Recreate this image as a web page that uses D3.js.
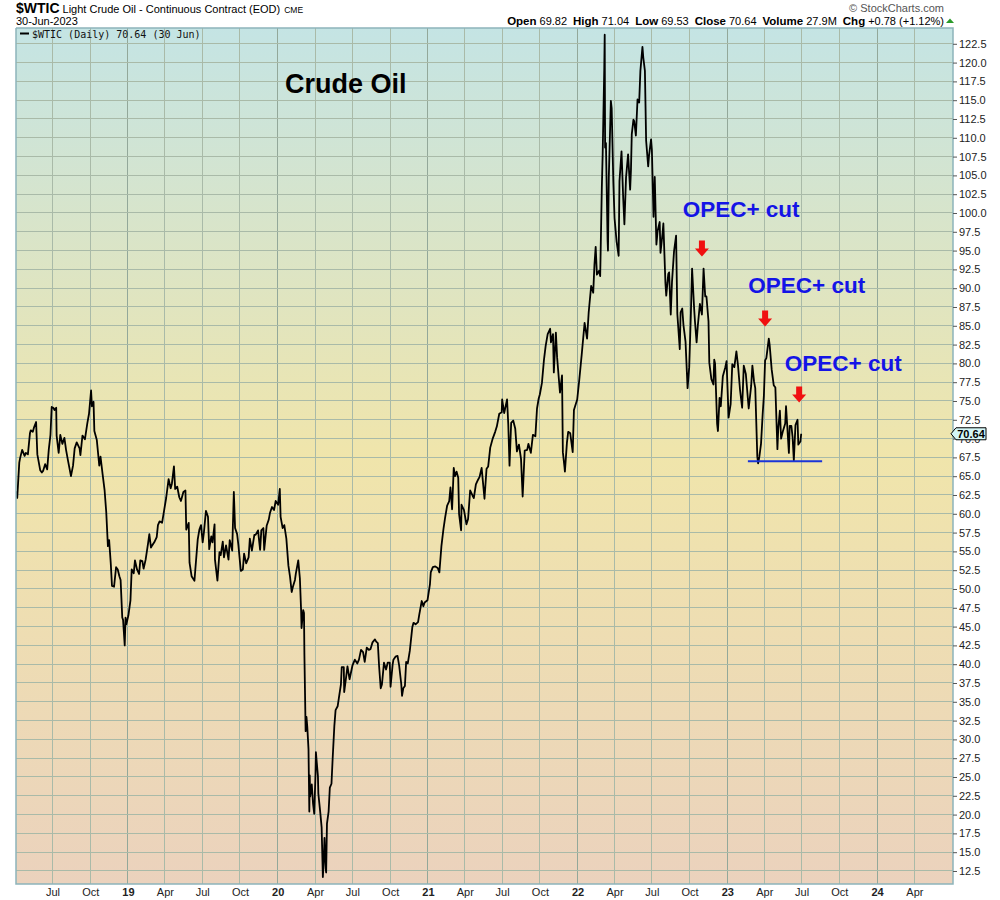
<!DOCTYPE html>
<html>
<head>
<meta charset="utf-8">
<script src="https://cdn.jsdelivr.net/npm/d3@7"></script>
<style>
  body { margin: 0; background: #fff; }
  svg text { font-family: Arial, "Liberation Sans", sans-serif; }
</style>
</head>
<body>
<div id="chart"></div>
<script>
// WTIC daily closes ([month-day, close])
const wtic2018 = [
  ["04-02",63.0],["04-06",62.1],["04-11",66.8],["04-13",67.4],["04-18",68.5],["04-24",67.7],["04-27",68.1],
  ["05-02",67.9],["05-07",70.7],["05-09",71.1],["05-14",70.9],["05-17",71.5],["05-22",72.2],["05-25",67.9],
  ["05-29",66.7],["06-01",65.8],["06-05",65.5],["06-08",65.7],["06-13",66.6],["06-18",65.9],["06-22",68.6],
  ["06-26",70.5],["06-29",74.2],["07-03",74.1],["07-06",73.8],["07-10",74.1],["07-11",70.4],["07-16",68.1],
  ["07-20",70.5],["07-25",69.3],["07-30",70.1],["08-03",68.5],["08-08",67.0],["08-15",65.0],["08-20",66.4],
  ["08-24",68.7],["08-29",69.5],["09-05",68.7],["09-07",67.8],["09-12",70.4],["09-18",69.9],["09-24",72.1],
  ["09-28",73.3],["10-03",76.4],["10-05",74.3],["10-09",74.9],["10-11",71.0],["10-17",69.8],["10-23",66.4],
  ["10-26",67.6],["10-31",65.3],["11-05",63.1],["11-09",60.2],["11-13",55.7],["11-16",56.5],["11-20",53.4],
  ["11-23",50.4],["11-28",50.3],["12-03",52.9],["12-07",52.6],["12-11",51.7],["12-14",51.2],["12-18",46.2],
  ["12-20",45.9],["12-24",42.5],["12-26",46.2],["12-28",45.3]
];
const wtic2019 = [
  ["01-02",46.5],["01-07",48.5],["01-10",52.6],["01-15",52.1],["01-18",53.8],["01-23",52.6],["01-28",52.0],
  ["01-31",53.8],["02-05",53.7],["02-08",52.7],["02-13",53.9],["02-19",56.1],["02-22",57.3],["02-26",55.5],
  ["03-01",55.8],["03-06",56.2],["03-12",56.9],["03-15",58.5],["03-19",59.0],["03-25",58.8],["03-29",60.1],
  ["04-04",62.1],["04-10",64.6],["04-15",63.4],["04-18",64.0],["04-23",66.3],["04-26",63.3],["05-01",63.6],
  ["05-06",62.2],["05-10",61.7],["05-16",62.9],["05-21",63.1],["05-23",57.9],["05-29",58.8],["05-31",53.5],
  ["06-05",51.7],["06-12",51.1],["06-14",52.5],["06-20",56.6],["06-24",57.9],["06-28",58.5],["07-02",56.2],
  ["07-05",57.5],["07-10",60.4],["07-15",59.6],["07-18",55.3],["07-23",57.0],["07-26",56.2],["07-31",58.6],
  ["08-01",53.9],["08-07",51.1],["08-12",54.9],["08-15",54.5],["08-20",56.3],["08-23",54.2],["08-28",55.8],
  ["09-03",53.9],["09-06",56.5],["09-12",55.1],["09-16",62.9],["09-19",58.1],["09-24",57.3],["09-27",55.9],
  ["10-03",52.4],["10-08",52.6],["10-11",54.7],["10-16",53.4],["10-22",54.2],["10-25",56.7],["10-30",55.1],
  ["11-05",57.2],["11-08",57.2],["11-14",57.8],["11-19",55.2],["11-22",57.8],["11-27",58.1],["11-29",55.2],
  ["12-05",58.4],["12-10",59.2],["12-13",60.1],["12-18",60.9],["12-23",60.5],["12-27",61.7]
];
const wtic2020 = [
  ["01-02",61.2],["01-06",63.3],["01-08",59.6],["01-13",58.1],["01-17",58.5],["01-22",56.7],["01-27",53.1],
  ["01-31",51.6],["02-04",49.6],["02-07",50.3],["02-12",51.2],["02-14",52.0],["02-20",53.8],["02-24",51.4],
  ["02-27",47.1],["02-28",44.8],["03-03",47.2],["03-05",46.8],["03-06",41.3],["03-09",31.1],["03-11",33.0],
  ["03-13",31.7],["03-16",28.7],["03-18",20.4],["03-19",25.2],["03-20",22.4],["03-24",24.0],["03-27",21.5],
  ["03-30",20.1],["04-02",25.3],["04-03",28.3],["04-08",25.1],["04-09",22.8],["04-14",20.1],["04-17",18.3],
  ["04-20",11.7],["04-22",13.8],["04-24",16.9],["04-27",12.8],["04-28",12.3],["04-30",18.8],["05-04",20.4],
  ["05-07",23.6],["05-11",24.1],["05-14",27.6],["05-18",31.8],["05-21",33.9],["05-26",34.4],["05-29",35.5],
  ["06-03",37.3],["06-05",39.6],["06-10",39.6],["06-11",36.3],["06-16",38.4],["06-19",39.7],["06-24",38.0],
  ["06-26",38.5],["07-01",39.8],["07-07",40.6],["07-13",40.1],["07-17",40.6],["07-22",41.9],["07-27",41.6],
  ["07-31",40.3],["08-05",42.2],["08-10",41.9],["08-14",42.0],["08-19",42.9],["08-25",43.3],["08-28",43.0],
  ["09-01",42.8],["09-04",39.8],["09-08",36.8],["09-11",37.3],["09-16",40.2],["09-21",39.3],["09-25",40.2],
  ["09-30",40.2],["10-02",37.0],["10-07",39.9],["10-09",40.6],["10-14",41.0],["10-19",41.1],["10-23",39.8],
  ["10-28",37.4],["10-30",35.8],["11-02",36.8],["11-06",37.1],["11-09",40.3],["11-13",40.1],["11-18",41.8],
  ["11-24",44.9],["11-27",45.5],["12-02",45.3],["12-08",45.6],["12-11",46.6],["12-17",48.4],["12-21",47.7],
  ["12-24",48.2],["12-31",48.5]
];
const wtic2021 = [
  ["01-06",50.6],["01-08",52.2],["01-13",52.9],["01-19",53.0],["01-25",52.8],["01-29",52.2],["02-03",55.7],
  ["02-08",58.0],["02-12",59.5],["02-17",61.1],["02-22",61.7],["02-25",63.5],["03-01",60.6],["03-05",66.1],
  ["03-08",65.0],["03-12",65.6],["03-16",64.8],["03-18",60.0],["03-23",57.8],["03-24",61.2],["03-30",60.5],
  ["04-05",58.6],["04-09",59.3],["04-14",63.1],["04-20",62.4],["04-23",62.1],["04-28",63.9],["05-03",64.5],
  ["05-07",64.9],["05-12",66.1],["05-19",62.0],["05-24",66.0],["05-28",66.3],["06-02",68.8],["06-08",70.0],
  ["06-14",70.9],["06-18",71.6],["06-24",73.3],["06-30",73.5],["07-01",75.2],["07-06",73.4],["07-13",75.2],
  ["07-16",71.8],["07-19",66.4],["07-23",72.1],["07-28",72.4],["08-02",71.3],["08-06",68.3],["08-11",69.2],
  ["08-16",67.3],["08-20",62.3],["08-25",68.4],["08-31",68.5],["09-03",69.3],["09-09",68.1],["09-14",70.5],
  ["09-20",70.3],["09-24",74.0],["09-28",75.3],["10-01",75.9],["10-06",77.4],["10-11",80.5],["10-15",82.3],
  ["10-20",83.9],["10-26",84.6],["10-28",82.8],["11-02",83.9],["11-04",78.8],["11-09",84.1],["11-12",80.8],
  ["11-19",76.1],["11-24",78.4],["11-26",68.2],["11-30",66.2],["12-01",65.6],["12-06",69.5],["12-09",70.9],
  ["12-14",70.7],["12-20",68.2],["12-23",73.8],["12-31",75.2]
];
const wtic2022 = [
  ["01-05",77.8],["01-11",81.2],["01-18",85.4],["01-24",83.3],["01-28",86.8],["02-03",90.3],["02-08",89.4],
  ["02-11",93.1],["02-14",95.5],["02-17",91.8],["02-22",92.3],["02-25",91.6],["03-01",103.4],["03-03",107.7],
  ["03-07",119.4],["03-08",123.7],["03-09",108.7],["03-11",109.3],["03-15",96.4],["03-16",95.0],["03-18",104.7],
  ["03-23",114.9],["03-25",113.9],["03-29",104.2],["04-01",99.3],["04-06",96.2],["04-11",94.3],["04-13",104.2],
  ["04-18",108.2],["04-22",102.1],["04-25",98.5],["04-29",104.7],["05-04",107.8],["05-09",103.1],["05-11",105.7],
  ["05-13",110.5],["05-17",112.4],["05-19",112.2],["05-23",110.3],["05-27",115.1],["05-31",114.7],["06-03",118.9],
  ["06-08",122.1],["06-10",120.7],["06-14",118.9],["06-17",109.6],["06-22",106.2],["06-24",107.6],["06-29",109.8],
  ["07-01",108.4],["07-05",99.5],["07-08",104.8],["07-12",95.8],["07-15",97.6],["07-20",98.8],["07-22",94.7],
  ["07-27",97.3],["07-29",98.6],["08-03",90.7],["08-05",89.0],["08-10",91.9],["08-12",92.1],["08-16",86.5],
  ["08-19",90.8],["08-24",94.9],["08-29",97.0],["09-01",86.6],["09-07",81.9],["09-09",86.8],["09-13",87.3],
  ["09-16",85.1],["09-21",82.9],["09-26",76.7],["09-30",79.5],["10-04",86.5],["10-07",92.6],["10-12",87.3],
  ["10-14",85.6],["10-18",82.8],["10-21",85.0],["10-26",87.9],["10-31",86.5],["11-04",92.6],["11-08",88.9],
  ["11-11",88.9],["11-16",85.6],["11-18",80.1],["11-23",77.9],["11-28",77.2],["11-30",80.5],["12-02",80.0],
  ["12-07",72.0],["12-09",71.0],["12-13",75.4],["12-16",74.3],["12-21",78.3],["12-27",79.5],["12-30",80.3]
];
const wtic2023 = [
  ["01-04",72.8],["01-09",74.6],["01-13",79.9],["01-18",79.5],["01-23",81.6],["01-27",79.7],["02-01",76.4],
  ["02-06",74.1],["02-10",79.7],["02-15",78.6],["02-22",74.0],["02-28",77.0],["03-03",79.7],["03-07",77.6],
  ["03-10",76.7],["03-15",67.6],["03-17",66.7],["03-20",67.6],["03-24",69.3],["03-28",73.2],["03-31",75.7],
  ["04-03",80.4],["04-06",80.7],["04-12",83.3],["04-14",82.5],["04-19",79.2],["04-24",77.1],["04-28",76.8],
  ["05-03",68.6],["05-05",71.3],["05-09",73.7],["05-12",70.0],["05-16",70.9],["05-22",72.0],["05-24",74.3],
  ["05-31",68.1],["06-02",71.7],["06-06",71.7],["06-09",70.2],["06-12",67.1],["06-16",71.8],["06-21",72.5],
  ["06-23",69.2],["06-28",69.6],["06-30",70.64]
];

// annotations
const cutDates = ["2022-10-31", "2023-04-03", "2023-06-25"];
const cutTipPrices = [94.2, 84.9, 74.8];
const cutLabelDates = ["2022-09-14", "2023-02-21", "2023-05-21"];
const cutLabelPrices = [99.5, 89.4, 79.0];
const supportDates = ["2023-02-20", "2023-08-20"];
const supportPrice = 67.0;
const yTicks = d3.range(12.5, 122.6, 2.5);
const lastClose = 70.64;

const parse = d3.timeParse("%Y-%m-%d");
const series = [];
[[2018, wtic2018], [2019, wtic2019], [2020, wtic2020], [2021, wtic2021], [2022, wtic2022], [2023, wtic2023]]
  .forEach(([yr, rows]) => rows.forEach(r => series.push({date: parse(yr + "-" + r[0]), close: r[1]})));

const W = 1000, H = 900;
const plot = {left: 16, right: 953, top: 28, bottom: 884};

const svg = d3.select("#chart").append("svg")
  .attr("width", W).attr("height", H);

const x = d3.scaleTime()
  .domain([parse("2018-04-03"), parse("2024-07-04")])
  .range([plot.left, plot.right]);
const y = d3.scaleLinear()
  .domain([10.77, 124.6])
  .range([plot.bottom, plot.top]);

// background gradient
const defs = svg.append("defs");
const grad = defs.append("linearGradient").attr("id", "bg")
  .attr("x1", 0).attr("y1", 0).attr("x2", 0).attr("y2", 1);
grad.append("stop").attr("offset", "0%").attr("stop-color", "#c4e4e4");
grad.append("stop").attr("offset", "50%").attr("stop-color", "#f0e5ab");
grad.append("stop").attr("offset", "100%").attr("stop-color", "#ebd2bd");
defs.append("clipPath").attr("id", "clip").append("rect")
  .attr("x", plot.left).attr("y", plot.top)
  .attr("width", plot.right - plot.left).attr("height", plot.bottom - plot.top);

svg.append("rect")
  .attr("x", plot.left).attr("y", plot.top)
  .attr("width", plot.right - plot.left).attr("height", plot.bottom - plot.top)
  .attr("fill", "url(#bg)");

// grid
const quarters = d3.timeMonth.every(3).range(parse("2018-04-03"), parse("2024-06-01"));
svg.append("g")
  .selectAll("line")
  .data(quarters)
  .join("line")
  .attr("x1", d => x(d)).attr("x2", d => x(d))
  .attr("y1", plot.top).attr("y2", plot.bottom)
  .attr("stroke", d => d.getMonth() === 0 ? "#93a89a" : "#a9baa8")
  .attr("stroke-width", 1)
  .attr("shape-rendering", "crispEdges");

svg.append("g")
  .selectAll("line")
  .data(yTicks)
  .join("line")
  .attr("x1", plot.left).attr("x2", plot.right)
  .attr("y1", d => y(d)).attr("y2", d => y(d))
  .attr("stroke", "#a9baa8")
  .attr("stroke-width", 1)
  .attr("shape-rendering", "crispEdges");

// price line
const line = d3.line()
  .x(d => x(d.date))
  .y(d => y(d.close));

svg.append("path")
  .datum(series)
  .attr("clip-path", "url(#clip)")
  .attr("fill", "none")
  .attr("stroke", "#000")
  .attr("stroke-width", 1.8)
  .attr("stroke-linejoin", "round")
  .attr("d", line);

// border
svg.append("path")
  .attr("d", `M${plot.left},${plot.top}V${plot.bottom}H${plot.right}V${plot.top}H${plot.left}`)
  .attr("fill", "none")
  .attr("stroke", "#8db4ba")
  .attr("stroke-width", 1.5);

// axes
const yAxis = svg.append("g")
  .attr("transform", `translate(${plot.right},0)`)
  .call(d3.axisRight(y).tickValues(yTicks).tickFormat(d3.format(".1f")).tickSize(4).tickPadding(2));
yAxis.select(".domain").remove();
yAxis.selectAll("line").attr("stroke", "#555");
yAxis.selectAll("text").attr("font-size", 11).attr("fill", "#222")
  .style("font-family", "Arial, 'Liberation Sans', sans-serif");

const xAxis = svg.append("g")
  .attr("transform", `translate(0,${plot.bottom})`)
  .call(d3.axisBottom(x).tickValues(quarters).tickSize(0).tickPadding(4)
    .tickFormat(d => d.getMonth() === 0 ? d3.timeFormat("%y")(d) : d3.timeFormat("%b")(d)));
xAxis.select(".domain").remove();
xAxis.selectAll("text")
  .attr("font-size", 11).attr("fill", "#222")
  .attr("font-weight", d => d.getMonth() === 0 ? "bold" : "normal")
  .style("font-family", "Arial, 'Liberation Sans', sans-serif");

// last value tag
const tagY = y(lastClose);
svg.append("path")
  .attr("d", `M${plot.right - 2},${tagY} L${plot.right + 3},${tagY - 6} H${plot.right + 33} V${tagY + 6} H${plot.right + 3} Z`)
  .attr("fill", "#d4f6f6").attr("stroke", "#000").attr("stroke-width", 1);
svg.append("text")
  .attr("x", plot.right + 18).attr("y", tagY + 4)
  .attr("text-anchor", "middle")
  .attr("font-size", 11).attr("font-weight", "bold")
  .text(d3.format(".2f")(lastClose));

// support line
svg.append("line")
  .attr("x1", x(parse(supportDates[0]))).attr("x2", x(parse(supportDates[1])))
  .attr("y1", y(supportPrice)).attr("y2", y(supportPrice))
  .attr("stroke", "#1a34d8").attr("stroke-width", 2);

// OPEC+ cut arrows and labels
const arrows = svg.append("g");
cutDates.forEach((d, i) => {
  const ax = x(parse(d)), ay = y(cutTipPrices[i]);
  arrows.append("path")
    .attr("d", `M${ax - 3},${ay - 16} H${ax + 3} V${ay - 8} H${ax + 7} L${ax},${ay} L${ax - 7},${ay - 8} H${ax - 3} Z`)
    .attr("fill", "#f01010");
  arrows.append("text")
    .attr("x", x(parse(cutLabelDates[i]))).attr("y", y(cutLabelPrices[i]))
    .attr("font-size", 22.5).attr("font-weight", "bold")
    .attr("fill", "#1414e6")
    .text("OPEC+ cut");
});

// chart title
svg.append("text")
  .attr("x", 285).attr("y", 93)
  .attr("font-size", 27).attr("font-weight", "bold")
  .text("Crude Oil");

// legend
svg.append("line")
  .attr("x1", 20).attr("x2", 29).attr("y1", 33.5).attr("y2", 33.5)
  .attr("stroke", "#000").attr("stroke-width", 2);
svg.append("text")
  .attr("x", 32).attr("y", 37.5)
  .attr("font-size", 10).attr("fill", "#111")
  .style("font-family", "'DejaVu Sans Mono', monospace")
  .text("$WTIC (Daily) 70.64 (30 Jun)");

// header
const hdr = svg.append("text").attr("x", 16).attr("y", 13);
hdr.append("tspan").attr("font-size", 14).attr("font-weight", "bold").text("$WTIC");
hdr.append("tspan").attr("font-size", 11).attr("dx", 3).text("Light Crude Oil - Continuous Contract (EOD)");
hdr.append("tspan").attr("font-size", 8.5).attr("dx", 4).text("CME");

svg.append("text").attr("x", 16).attr("y", 25).attr("font-size", 11).text("30-Jun-2023");

svg.append("text")
  .attr("x", 944).attr("y", 12).attr("text-anchor", "end")
  .attr("font-size", 11).attr("fill", "#555")
  .text("© StockCharts.com");

const quote = [["Open", "69.82"], ["High", "71.04"], ["Low", "69.53"], ["Close", "70.64"],
  ["Volume", "27.9M"], ["Chg", "+0.78 (+1.12%)"]];
const q = svg.append("text").attr("x", 944).attr("y", 25).attr("text-anchor", "end");
quote.forEach((p, i) => {
  q.append("tspan").attr("font-size", 11.5).attr("font-weight", "bold")
    .attr("dx", i === 0 ? 0 : 6).text(p[0]);
  q.append("tspan").attr("font-size", 11).attr("dx", 3).text(p[1]);
});
svg.append("path")
  .attr("d", "M946,23 L950,18.5 L954,23 Z")
  .attr("fill", "#2a9a2a");
</script>
</body>
</html>
